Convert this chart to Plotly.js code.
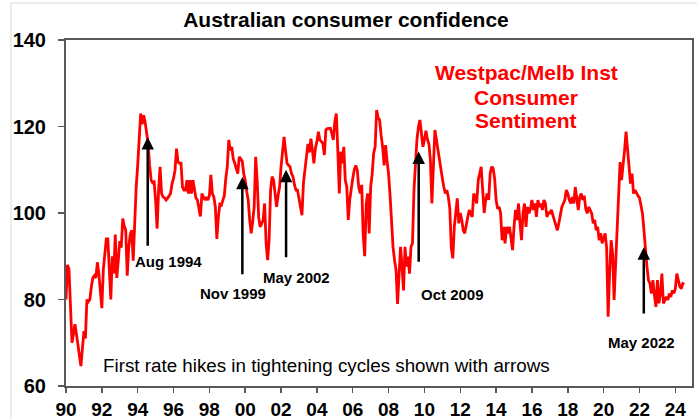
<!DOCTYPE html>
<html>
<head>
<meta charset="utf-8">
<script src="https://cdn.plot.ly/plotly-3.0.1.min.js"></script>
<style>html,body{margin:0;padding:0;background:#fff;}#chart{width:697px;height:419px;}</style>
</head>
<body>
<div id="chart"></div>
<script>
// Westpac/Melbourne Institute consumer sentiment index, monthly values
const startYear = 1990;
const y1990 = [80, 88, 87, 78, 70, 72, 74.3, 72, 69, 67, 64.6, 68];
const y1991 = [72.7, 71, 80, 79.5, 80, 83, 85, 85.5, 85, 88.6, 86, 82];
const y1992 = [78, 87, 91, 94, 94, 88, 80, 90, 86, 95, 85, 89];
const y1993 = [93.5, 92, 98.7, 97, 96, 85.5, 92, 95, 96, 89, 99, 106];
const y1994 = [111, 117, 123, 120.5, 122.6, 121, 119, 116, 111, 107.6, 107, 107.2];
const y1995 = [103, 96.4, 105.3, 110.7, 104.5, 103.7, 103.5, 103, 103.4, 104, 104.5, 106.8];
const y1996 = [108, 109.9, 114.9, 111.8, 111.5, 111.5, 106, 105.3, 105.3, 107.6, 104.5, 107.6];
const y1997 = [104.5, 107.6, 104.9, 103.5, 103, 101, 99.2, 104.5, 103.5, 103, 103.7, 103];
const y1998 = [104, 108.8, 104.5, 103.7, 101.4, 94, 99, 102, 101.8, 103, 104, 108];
const y1999 = [110.7, 116.9, 114.5, 115.3, 112.5, 111.5, 110, 109.1, 113, 112.6, 112, 109.1];
const y2000 = [107.6, 105, 103, 98.4, 95.3, 98, 101.4, 113, 107.6, 99.1, 96.8, 97.5];
const y2001 = [98.4, 102.2, 93, 89.1, 93.7, 105.3, 108.4, 107.6, 104, 101.4, 104, 106];
const y2002 = [110.7, 114.5, 117.6, 114.5, 111.5, 111, 110.7, 109.1, 108.4, 106.5, 105.3, 105.3];
const y2003 = [103, 100.7, 99.5, 107, 110, 114, 116, 114, 117.2, 114.5, 111.5, 115];
const y2004 = [116.5, 118.8, 116.9, 116.5, 116.1, 113.4, 119.2, 119.5, 119.6, 119.6, 118.4, 116.9];
const y2005 = [121.1, 123, 114.5, 104.5, 114.2, 111.5, 115.3, 107.6, 106, 98.4, 103, 106];
const y2006 = [108, 110, 111, 110, 106, 104.5, 106.5, 95, 90, 102, 104.5, 95.3];
const y2007 = [106, 109, 113.8, 115.3, 123.8, 122, 121.5, 118, 115.3, 111, 115.7, 112];
const y2008 = [109, 104, 98, 92, 89.1, 86.8, 79, 86, 92.2, 87.6, 82.1, 92.2];
const y2009 = [87.6, 89.9, 86, 92.2, 93, 105.3, 113, 117, 120, 121.5, 118.4, 115.3];
const y2010 = [117, 119, 117, 116, 112.2, 102.2, 110.7, 119.2, 117, 114.5, 112, 110];
const y2011 = [108, 106, 104.5, 105.3, 103.7, 101, 92, 89.5, 96.8, 100, 103.4, 97.6];
const y2012 = [100, 98.4, 96, 95.3, 96.8, 99, 100.7, 100, 99.1, 104.5, 103.7, 102.2];
const y2013 = [107.6, 109.1, 110.7, 105.3, 100, 103, 104.5, 103, 109.1, 110.7, 110.3, 108];
const y2014 = [103, 101, 101.4, 100, 93.7, 96.8, 93, 96.8, 95.3, 96.8, 93.7, 91.4];
const y2015 = [96.8, 100.7, 98.4, 102.2, 97.6, 93.7, 99.9, 102.2, 96.8, 101.4, 99.9, 101];
const y2016 = [103, 100.7, 102.2, 99.1, 103, 101.4, 102.2, 100.7, 103, 102.2, 99.1, 100];
const y2017 = [100, 100.7, 99.5, 98.4, 96.8, 96, 97.6, 99.9, 101.4, 102.2, 103, 105.3];
const y2018 = [104.5, 103, 102.2, 103.7, 102.2, 106, 103, 100.7, 103.7, 104.5, 103, 104];
const y2019 = [101, 99.9, 101.4, 100.7, 99.9, 97.6, 98.4, 96, 96.8, 93.7, 95.3, 93];
const y2020 = [94.5, 95.3, 92, 76, 86, 93.7, 90.6, 79.9, 88, 96.8, 105.3, 111.8];
const y2021 = [107.6, 110.7, 114.5, 118.8, 114.5, 109.1, 106.8, 109.1, 104.5, 105.3, 104.5, 104];
const y2022 = [103.5, 102, 99.9, 96, 91, 87.6, 84.5, 83.7, 81.4, 84.5, 81, 78.3];
const y2023 = [84.5, 79.1, 81.4, 86, 79.1, 79.9, 80.6, 79.9, 81.4, 80.6, 82.1, 81.4];
const y2024 = [82.5, 86, 84.5, 83, 82.5, 83.7, 83.5];

const years = [y1990,y1991,y1992,y1993,y1994,y1995,y1996,y1997,y1998,y1999,
  y2000,y2001,y2002,y2003,y2004,y2005,y2006,y2007,y2008,y2009,
  y2010,y2011,y2012,y2013,y2014,y2015,y2016,y2017,y2018,y2019,
  y2020,y2021,y2022,y2023,y2024];

const tickYears = [1990,1992,1994,1996,1998,2000,2002,2004,2006,2008,2010,2012,2014,2016,2018,2020,2022,2024];
const tickLabels = ['90','92','94','96','98','00','02','04','06','08','10','12','14','16','18','20','22','24'];

// first rate hikes (arrows)
const hikeLabels = ['Aug 1994','Nov 1999','May 2002','Oct 2009','May 2022'];
const hikeDates  = [1994.56, 1999.84, 2002.28, 2009.68, 2022.24];
const hikeTip    = [117.6, 108.4, 110, 114.2, 92.1];
const hikeTail   = [92.1, 85.5, 89.4, 88.4, 76.4];

const xs = [], ys = [];
years.forEach((arr, i) => arr.forEach((v, m) => { xs.push(startYear + i + m / 12); ys.push(v); }));

const FONT = 'Liberation Sans, Arial, sans-serif';

// label placements (pixel-derived, paper coords)
const L = 66, T = 40, W = 626, H = 346;
const px = x => (x - L) / W;
const py = y => (T + H - y) / H;
const labelPos = [[168.5, 261.5], [232.5, 293], [296, 277], [452.5, 294.5], [641.5, 342.5]];

const annotations = [];
hikeDates.forEach((d, i) => {
  annotations.push({
    x: d, y: hikeTip[i], xref: 'x', yref: 'y',
    ax: d, ay: hikeTail[i], axref: 'x', ayref: 'y',
    text: '', showarrow: true, arrowhead: 2, arrowsize: 1, arrowwidth: 2.5,
    arrowcolor: '#000', standoff: 0, startstandoff: 0
  });
  annotations.push({
    x: px(labelPos[i][0]), y: py(labelPos[i][1]), xref: 'paper', yref: 'paper',
    xanchor: 'center', yanchor: 'middle', showarrow: false, text: hikeLabels[i],
    font: {family: FONT, size: 15, weight: 'bold', color: '#000'}
  });
});
const redLines = [['Westpac/Melb Inst', 72.5], ['Consumer', 97.5], ['Sentiment', 120.5]];
redLines.forEach(r => annotations.push({
  x: px(526), y: py(r[1]), xref: 'paper', yref: 'paper', xanchor: 'center', yanchor: 'middle',
  showarrow: false, text: r[0], font: {family: FONT, size: 21, weight: 'bold', color: '#ff0000'}
}));
annotations.push({
  x: px(101), y: py(365), xref: 'paper', yref: 'paper', xanchor: 'left', yanchor: 'middle',
  showarrow: false, text: 'First rate hikes in tightening cycles shown with arrows',
  font: {family: FONT, size: 18.8, color: '#000'}
});

const trace = {
  x: xs, y: ys, type: 'scatter', mode: 'lines',
  line: {color: '#ff0000', width: 2.8}, hoverinfo: 'skip'
};

const layout = {
  width: 697, height: 419,
  margin: {l: 66, r: 5, t: 40, b: 33},
  paper_bgcolor: '#fff', plot_bgcolor: '#fff',
  showlegend: false,
  title: {text: 'Australian consumer confidence', font: {family: FONT, size: 21, weight: 'bold', color: '#000'},
          x: 0.4964, xref: 'container', xanchor: 'center', y: 0.952, yref: 'container', yanchor: 'middle'},
  xaxis: {range: [1990, 2024.93], tickvals: tickYears, ticktext: tickLabels,
          showgrid: false, zeroline: false, showline: true, mirror: true, linecolor: '#595959', linewidth: 2,
          ticks: 'outside', ticklen: 5, tickwidth: 1.5, tickcolor: '#595959',
          tickfont: {family: FONT, size: 19, weight: 'bold', color: '#000'}},
  yaxis: {range: [60, 140], tickvals: [60, 80, 100, 120, 140],
          showgrid: false, zeroline: false, showline: true, mirror: true, linecolor: '#595959', linewidth: 2,
          ticks: 'outside', ticklen: 6, tickwidth: 1.5, tickcolor: '#595959', ticklabelstandoff: 8,
          tickfont: {family: FONT, size: 20, weight: 'bold', color: '#000'}},
  shapes: [{type: 'rect', xref: 'paper', yref: 'paper', x0: px(11), x1: 1.3, y0: -0.3, y1: py(3),
            line: {color: '#d9d9d9', width: 1}, fillcolor: 'rgba(0,0,0,0)', layer: 'above'}],
  annotations: annotations
};

Plotly.newPlot('chart', [trace], layout, {displayModeBar: false, staticPlot: true});
</script>
</body>
</html>
